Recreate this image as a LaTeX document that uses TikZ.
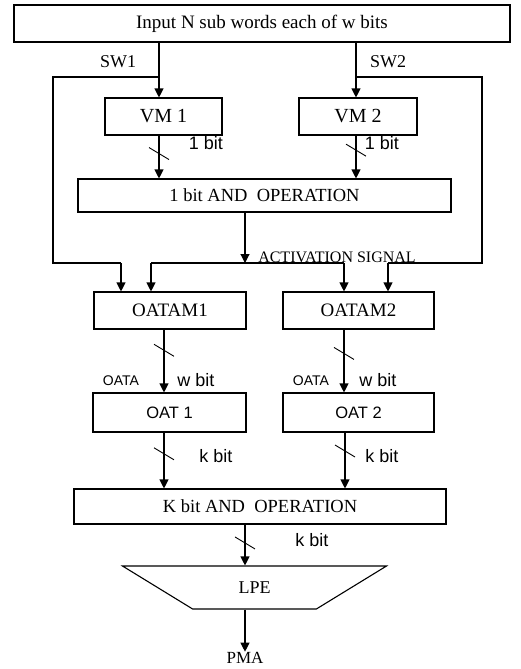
\documentclass[tikz,border=0pt]{standalone}
\usepackage{fontspec}
\setmainfont{Liberation Serif}
\setsansfont{Liberation Sans}
\usetikzlibrary{arrows.meta,shapes.geometric,positioning}
\tikzset{
  box/.style={rectangle, draw=black, line width=1.1pt, fill=white,
    minimum height=37pt, align=center, inner sep=0pt,
    font=\fontsize{19}{21}\selectfont},
  lpebox/.style={trapezium, trapezium stretches=true, shape border rotate=180,
    trapezium left angle=33, trapezium right angle=33, draw=black,
    line width=1.1pt, minimum width=265pt, minimum height=43pt, inner sep=0pt,
    font=\fontsize{18}{20}\selectfont},
  note/.style={font=\sffamily\fontsize{18}{20}\selectfont, inner sep=0pt},
  snote/.style={font=\fontsize{18}{20}\selectfont, inner sep=0pt},
  ar/.style={-{Triangle[length=9pt,width=9pt]}, line width=1.1pt},
  ln/.style={line width=1.1pt},
  slash/.pic={\draw[-, line width=0.9pt] (-10,-6) -- (10,6);},
}

\begin{document}
\begin{tikzpicture}[x=1pt,y=-1pt]
\useasboundingbox (0,0) rectangle (520,669);

% ---------- boxes ----------
\node[box, minimum width=496pt] (top) at (262,23.5) {Input N sub words each of w bits};
\node[box, minimum width=117pt, font=\fontsize{20}{22}\selectfont] (vm1) at (163.5,116.5) {VM 1};
\node[box, minimum width=118pt, font=\fontsize{20}{22}\selectfont] (vm2) at (358,116.5) {VM 2};
\node[box, minimum width=373pt, minimum height=33pt, font=\fontsize{18.5}{20}\selectfont] (and1) at (264.5,195.5) {1 bit AND\ \ OPERATION};
\node[box, minimum width=152pt] (oatam1) at (170,310.5) {OATAM1};
\node[box, minimum width=151pt] (oatam2) at (358.5,310.5) {OATAM2};
\node[box, minimum width=153pt, minimum height=39pt, font=\sffamily\fontsize{16.5}{18}\selectfont] (oat1) at (169.5,412.5) {OAT 1};
\node[box, minimum width=151pt, minimum height=39pt, font=\sffamily\fontsize{16.5}{18}\selectfont] (oat2) at (358.5,412.5) {OAT 2};
\node[box, minimum width=372pt, minimum height=35pt, font=\fontsize{18.5}{20}\selectfont] (kand) at (260,506.5) {K bit AND\ \ OPERATION};
\node[lpebox] (lpe) at (254.5,587.5) {LPE};
\node[snote, font=\fontsize{17}{19}\selectfont] (pma) at (245,657.5) {PMA};

% ---------- junction points ----------
\coordinate (sw1) at (159,77);
\coordinate (sw2) at (356,77);
\coordinate (l1) at (53,77);
\coordinate (l2) at (53,263);
\coordinate (l3) at (121,263);
\coordinate (r1) at (482,77);
\coordinate (r2) at (482,263);
\coordinate (r3) at (388,263);
\coordinate (act) at (245,263);
\coordinate (act1) at (151,263);
\coordinate (act2) at (344,263);
\coordinate (c1) at (164,0);
\coordinate (c2) at (345,0);

% ---------- connectors ----------
\draw[ar] (top.south -| sw1) -- (vm1.north -| sw1);
\draw[ar] (top.south -| sw2) -- (vm2.north -| sw2);
\draw[ln] (sw1) -- (l1) -- (l2) -- (l3);
\draw[ar] (l3) -- (oatam1.north -| l3);
\draw[ln] (sw2) -- (r1) -- (r2) -- (r3);
\draw[ar] (r3) -- (oatam2.north -| r3);

\draw[ar] (vm1.south -| sw1) -- (and1.north -| sw1) pic[pos=0.42]{slash};
\draw[ar] (vm2.south -| sw2) -- (and1.north -| sw2) pic[pos=0.34]{slash};

\draw[ar] (and1.south -| act) -- (act);
\draw[ln] (act1) -- (act2);
\draw[ar] (act1) -- (oatam1.north -| act1);
\draw[ar] (act2) -- (oatam2.north -| act2);

\draw[ar] (oatam1.south -| c1) -- (oat1.north -| c1) pic[pos=0.33]{slash};
\draw[ar] (oatam2.south -| act2) -- (oat2.north -| act2) pic[pos=0.38]{slash};
\draw[ar] (oat1.south -| c1) -- (kand.north -| c1) pic[pos=0.38]{slash};
\draw[ar] (oat2.south -| c2) -- (kand.north -| c2) pic[pos=0.33]{slash};
\draw[ar] (kand.south -| act) -- (lpe.north -| act) pic[pos=0.45]{slash};
\draw[ar] (lpe.south -| act) -- (pma.north);

% ---------- labels ----------
\node[snote] (sw1lab) at (118,62) {SW1};
\node[snote] (sw2lab) at (388,62) {SW2};
\node[note] (b1) at (206,143) {1 bit};
\node[note] (b2) at (382,143) {1 bit};
\node[snote, font=\fontsize{16}{18}\selectfont] (actlab) at (337,257) {ACTIVATION SIGNAL};
\node[note, font=\sffamily\fontsize{14}{16}\selectfont] (oata1) at (121,381) {OATA};
\node[note, font=\sffamily\fontsize{14}{16}\selectfont] (oata2) at (311,381) {OATA};
\node[note] (w1) at (196,380) {w bit};
\node[note] (w2) at (378,380) {w bit};
\node[note] (k1) at (216,456) {k bit};
\node[note] (k2) at (382,456) {k bit};
\node[note] (k3) at (312,540) {k bit};

\end{tikzpicture}
\end{document}
